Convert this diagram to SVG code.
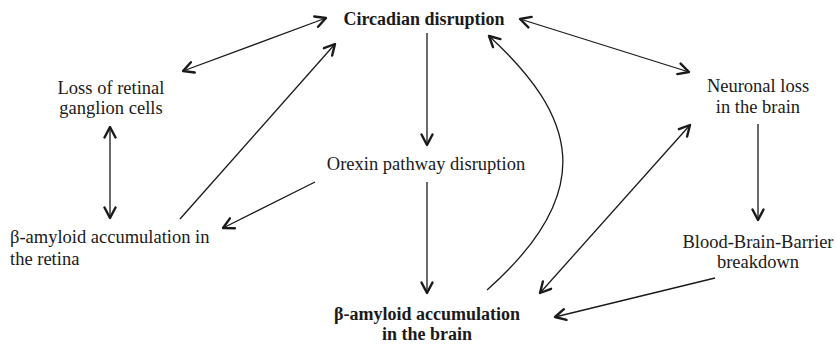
<svg xmlns="http://www.w3.org/2000/svg" width="836" height="344" viewBox="0 0 836 344">
<style>
text{font-family:"Liberation Serif","Times New Roman",serif;font-size:18.5px;fill:#1a1a1a}
.b{font-weight:bold;font-size:18px}
.c{text-anchor:middle}
.ln{stroke:#1a1a1a;stroke-width:1.3;fill:none}
</style>
<defs>
<marker id="ah" viewBox="0 0 14 14" refX="12.5" refY="7" markerWidth="14" markerHeight="14" markerUnits="userSpaceOnUse" orient="auto-start-reverse">
<path d="M2,1.5 L12.5,7 L2,12.5" fill="none" stroke="#1a1a1a" stroke-width="2.4" stroke-linecap="round" stroke-linejoin="round"/>
</marker>
</defs>
<rect width="836" height="344" fill="#fff"/>
<g id="connectors">
<line class="ln" x1="183" y1="71" x2="326" y2="18" marker-start="url(#ah)" marker-end="url(#ah)"/>
<line class="ln" x1="180" y1="219" x2="335" y2="44" marker-end="url(#ah)"/>
<line class="ln" x1="427" y1="33" x2="427" y2="145" marker-end="url(#ah)"/>
<line class="ln" x1="315" y1="182" x2="223" y2="228" marker-end="url(#ah)"/>
<line class="ln" x1="427" y1="182" x2="427" y2="293" marker-end="url(#ah)"/>
<path class="ln" d="M487,290 C600,190 575,115 489,36" marker-end="url(#ah)"/>
<line class="ln" x1="520" y1="19" x2="689" y2="72" marker-start="url(#ah)" marker-end="url(#ah)"/>
<line class="ln" x1="690" y1="125" x2="540" y2="293" marker-start="url(#ah)" marker-end="url(#ah)"/>
<line class="ln" x1="758" y1="124" x2="758" y2="220" marker-end="url(#ah)"/>
<line class="ln" x1="715" y1="278" x2="555" y2="317" marker-end="url(#ah)"/>
<line class="ln" x1="110" y1="127" x2="110" y2="218" marker-start="url(#ah)" marker-end="url(#ah)"/>
</g>
<g id="circadian"><text class="b c" x="424" y="25">Circadian disruption</text></g>
<g id="rgc"><text class="c" x="111" y="94">Loss of retinal</text><text class="c" x="111" y="114">ganglion cells</text></g>
<g id="orexin"><text class="c" x="426" y="170">Orexin pathway disruption</text></g>
<g id="ab-retina"><text x="10" y="243">β-amyloid accumulation in</text><text x="10" y="265">the retina</text></g>
<g id="ab-brain"><text class="b c" x="427" y="320">β-amyloid accumulation</text><text class="b c" x="427" y="340">in the brain</text></g>
<g id="neuronal"><text class="c" x="758" y="92">Neuronal loss</text><text class="c" x="758" y="113">in the brain</text></g>
<g id="bbb"><text class="c" x="758" y="248">Blood-Brain-Barrier</text><text class="c" x="758" y="268">breakdown</text></g>
</svg>
